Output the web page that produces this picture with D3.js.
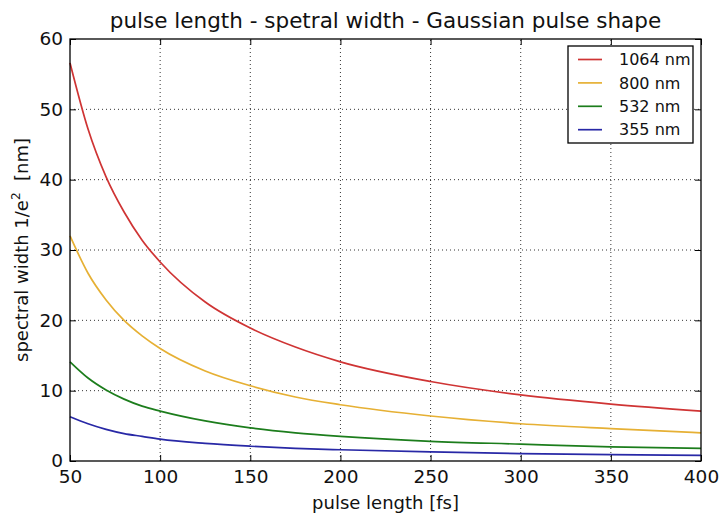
<!DOCTYPE html>
<html>
<head>
<meta charset="utf-8">
<script src="https://cdn.jsdelivr.net/npm/d3@7"></script>
<style>
  body { margin: 0; background: #fff; }
  svg { font-family: "DejaVu Sans", sans-serif; }
</style>
</head>
<body>
<svg id="chart" width="721" height="520"></svg>
<script>
const width = 721;
const height = 520;
const margin = {top: 39, right: 20, bottom: 59, left: 70};

const pulseLength = [50, 60, 70, 80, 90, 100, 125, 150, 175, 200, 250, 300, 350, 400];
const width1064 = [56.6, 47.2, 40.4, 35.4, 31.4, 28.3, 22.6, 18.9, 16.2, 14.1, 11.3, 9.4, 8.1, 7.1];
const width800 = [32.0, 26.7, 22.9, 20.0, 17.8, 16.0, 12.8, 10.7, 9.1, 8.0, 6.4, 5.3, 4.6, 4.0];
const width532 = [14.1, 11.8, 10.1, 8.8, 7.8, 7.1, 5.7, 4.7, 4.0, 3.5, 2.8, 2.4, 2.0, 1.8];
const width355 = [6.3, 5.3, 4.5, 3.9, 3.5, 3.1, 2.5, 2.1, 1.8, 1.6, 1.3, 1.05, 0.9, 0.8];
const seriesNames = ["1064 nm", "800 nm", "532 nm", "355 nm"];
const seriesColors = ["#cf3434", "#e6b034", "#1c7d1c", "#2828a6"];
const xTicks = [50, 100, 150, 200, 250, 300, 350, 400];
const yTicks = [0, 10, 20, 30, 40, 50, 60];

const series = [width1064, width800, width532, width355].map((vals, i) => ({
    name: seriesNames[i],
    color: seriesColors[i],
    points: vals.map((v, j) => [pulseLength[j], v])
}));

const svg = d3.select("#chart");
const x = d3.scaleLinear().domain([50, 400]).range([margin.left, width - margin.right]);
const y = d3.scaleLinear().domain([0, 60]).range([height - margin.bottom, margin.top]);

// grid
svg.append("g")
    .selectAll("line")
    .data(xTicks.slice(1, -1))
    .join("line")
    .attr("x1", d => x(d)).attr("x2", d => x(d))
    .attr("y1", y(0)).attr("y2", y(60))
    .style("stroke", "#000").style("stroke-width", 0.8).style("stroke-dasharray", "1,3");
svg.append("g")
    .selectAll("line")
    .data(yTicks.slice(1, -1))
    .join("line")
    .attr("x1", x(50)).attr("x2", x(400))
    .attr("y1", d => y(d)).attr("y2", d => y(d))
    .style("stroke", "#000").style("stroke-width", 0.8).style("stroke-dasharray", "1,3");

// curves
const line = d3.line()
    .x(d => x(d[0]))
    .y(d => y(d[1]))
    .curve(d3.curveMonotoneX);

svg.append("g")
    .selectAll("path")
    .data(series)
    .join("path")
    .attr("d", d => line(d.points))
    .style("fill", "none")
    .style("stroke", d => d.color)
    .style("stroke-width", 1.7);

// axes (inward ticks, like matplotlib classic)
svg.append("g")
    .attr("transform", `translate(0,${y(0)})`)
    .call(d3.axisBottom(x).tickValues(xTicks).tickSize(-6).tickPadding(9))
    .call(g => g.select(".domain").remove())
    .call(g => g.selectAll("text").attr("font-size", 18.5).attr("font-family", "DejaVu Sans").attr("fill", "#111"));
svg.append("g")
    .attr("transform", `translate(0,${y(60)})`)
    .call(d3.axisTop(x).tickValues(xTicks).tickSize(-6).tickFormat(""))
    .call(g => g.select(".domain").remove());
svg.append("g")
    .attr("transform", `translate(${x(50)},0)`)
    .call(d3.axisLeft(y).tickValues(yTicks).tickSize(-6).tickPadding(7))
    .call(g => g.select(".domain").remove())
    .call(g => g.selectAll("text").attr("font-size", 18.5).attr("font-family", "DejaVu Sans").attr("fill", "#111"));
svg.append("g")
    .attr("transform", `translate(${x(400)},0)`)
    .call(d3.axisRight(y).tickValues(yTicks).tickSize(-6).tickFormat(""))
    .call(g => g.select(".domain").remove());

svg.append("rect")
    .attr("x", x(50)).attr("y", y(60))
    .attr("width", x(400) - x(50)).attr("height", y(0) - y(60))
    .style("fill", "none").style("stroke", "#000").style("stroke-width", 1.3);

// title and labels
svg.append("text")
    .attr("x", (x(50) + x(400)) / 2).attr("y", 28)
    .attr("text-anchor", "middle")
    .attr("font-size", 21.5)
    .attr("fill", "#111")
    .text("pulse length - spetral width - Gaussian pulse shape");

svg.append("text")
    .attr("x", (x(50) + x(400)) / 2).attr("y", 509)
    .attr("text-anchor", "middle")
    .attr("font-size", 18)
    .attr("fill", "#111")
    .text("pulse length [fs]");

const yl = svg.append("text")
    .attr("transform", `translate(28,${(y(0) + y(60)) / 2}) rotate(-90)`)
    .attr("text-anchor", "middle")
    .attr("font-size", 18)
    .attr("fill", "#111")
    .style("white-space", "pre");
yl.append("tspan").text("spectral width 1/e");
yl.append("tspan").attr("dy", -8).attr("font-size", 12).text("2");
yl.append("tspan").attr("dy", 8).text("  [nm]");

// legend
const legend = svg.append("g").attr("transform", "translate(568,46)");
legend.append("rect")
    .attr("width", 125).attr("height", 97)
    .style("fill", "#fff").style("stroke", "#000").style("stroke-width", 1.3);
const rows = legend.selectAll("g.row")
    .data(series)
    .join("g")
    .attr("class", "row")
    .attr("transform", (d, i) => `translate(0,${13.5 + i * 23.4})`);
rows.append("line")
    .attr("x1", 10).attr("x2", 34)
    .style("stroke", d => d.color).style("stroke-width", 1.7);
rows.append("text")
    .attr("x", 51).attr("dy", "0.36em")
    .attr("font-size", 16)
    .attr("fill", "#111")
    .text(d => d.name);
</script>
</body>
</html>
